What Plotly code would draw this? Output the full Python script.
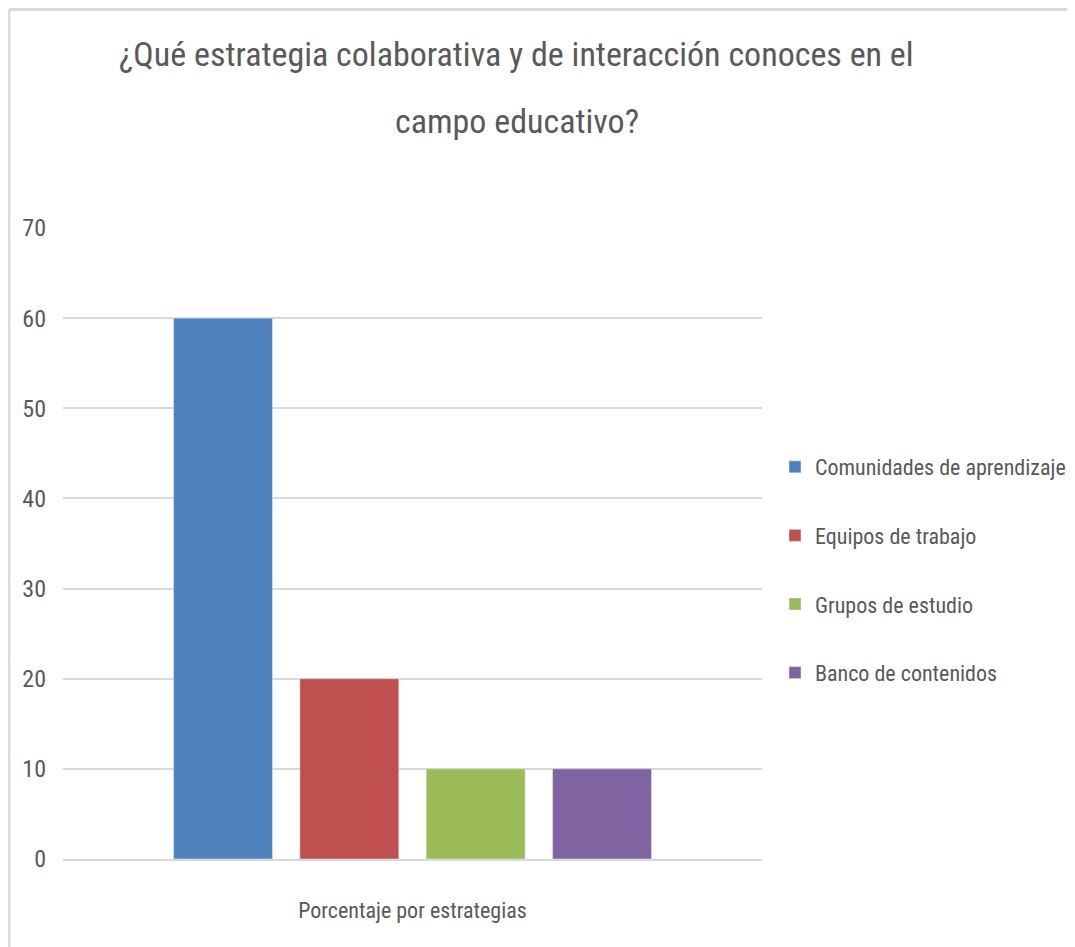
import plotly.graph_objects as go

categoria = ["Porcentaje por estrategias"]
series = ["Comunidades de aprendizaje", "Equipos de trabajo",
          "Grupos de estudio", "Banco de contenidos"]
valores = [60, 20, 10, 10]
colores = ["#4f81bd", "#c0504d", "#9bbb59", "#8064a2"]
titulo = ["¿Qué estrategia colaborativa y de interacción conoces en el",
          "campo educativo?"]

fuente = "Liberation Sans Narrow, Roboto Condensed, DejaVu Sans Condensed, sans-serif"
gris = "#595959"

# la pagina tiene 8px de margen en el body: la figura se reduce lo mismo
W, H = 1067, 939
L, T = 55, 220
PW, PH = 699, 631

fig = go.Figure()

for i, (nombre, v, c) in enumerate(zip(series, valores, colores)):
    fig.add_trace(go.Bar(
        x=categoria,
        y=[v],
        name=nombre,
        marker_color=c,
        legendgroup=str(i),
    ))

# titulo en dos lineas, con mas interlineado que el de plotly
for linea, ypx in zip(titulo, [46, 113]):
    fig.add_annotation(
        text=linea,
        xref="paper", yref="paper",
        x=(509 - L) / PW,
        y=(T + PH - ypx) / PH,
        xanchor="center", yanchor="middle",
        showarrow=False,
        font=dict(size=34, color=gris, family=fuente),
    )

borde_x = (1 - L) / PW
borde_y = (T + PH - 1.5) / PH

fig.update_layout(
    width=W,
    height=H,
    barmode="group",
    bargap=0.277,
    bargroupgap=0.217,
    plot_bgcolor="white",
    paper_bgcolor="white",
    font=dict(family=fuente, color=gris, size=22),
    margin=dict(l=L, r=W - L - PW, t=T, b=H - T - PH, autoexpand=False),
    legend=dict(
        x=1.0186,
        y=0.458,
        xanchor="left",
        yanchor="middle",
        traceorder="grouped",
        tracegroupgap=37,
        font=dict(size=22, color=gris),
    ),
    yaxis=dict(
        range=[0, 70],
        dtick=10,
        gridcolor="#d9d9d9",
        gridwidth=2,
        zeroline=False,
        showline=False,
        ticks="",
        ticklabelstandoff=16,
        tickfont=dict(size=24, color=gris),
    ),
    xaxis=dict(
        showline=True,
        linecolor="#d9d9d9",
        linewidth=2,
        ticks="",
        ticklabelstandoff=31,
        tickfont=dict(size=22, color=gris),
    ),
    shapes=[
        dict(type="line", xref="paper", yref="paper",
             x0=borde_x, x1=1.5, y0=borde_y, y1=borde_y,
             line=dict(color="#d9d9d9", width=3)),
        dict(type="line", xref="paper", yref="paper",
             x0=borde_x, x1=borde_x, y0=-0.2, y1=borde_y,
             line=dict(color="#d9d9d9", width=3)),
    ],
)

fig.write_html("out.html")
